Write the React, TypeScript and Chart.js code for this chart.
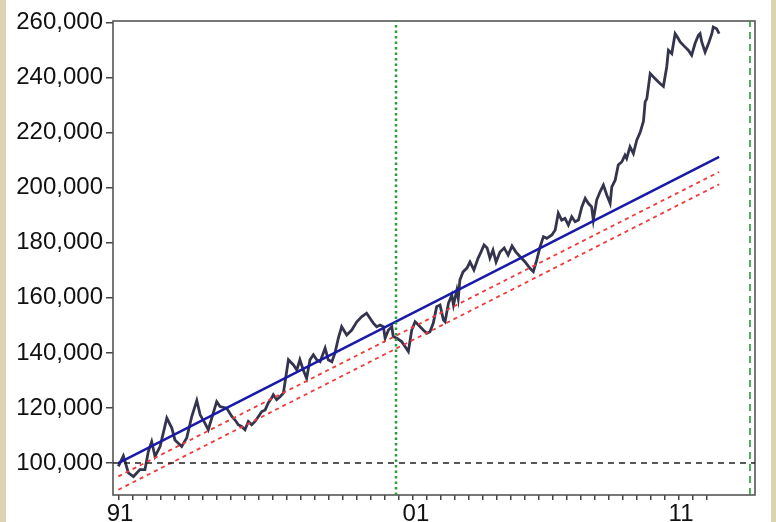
import { useEffect, useRef } from 'react';
import { Chart, registerables } from 'chart.js';

Chart.register(...registerables);

// Main series (decimal year, value)
const seriesYears = [
  1991.0, 1991.18, 1991.36, 1991.54, 1991.77, 1991.95, 1992.07, 1992.19, 1992.31, 1992.49,
  1992.73, 1992.91, 1993.02, 1993.26, 1993.44, 1993.62, 1993.8, 1993.92, 1994.09, 1994.21,
  1994.51, 1994.63, 1994.87, 1995.05, 1995.16, 1995.28, 1995.4, 1995.52, 1995.64, 1995.76,
  1995.88, 1996.0, 1996.12, 1996.24, 1996.35, 1996.47, 1996.53, 1996.65, 1996.77, 1996.89,
  1997.07, 1997.25, 1997.37, 1997.48, 1997.6, 1997.72, 1997.84, 1997.96, 1998.08, 1998.2,
  1998.38, 1998.49, 1998.62, 1998.73, 1998.85, 1998.97, 1999.15, 1999.33, 1999.51, 1999.69,
  1999.86, 1999.98, 2000.1, 2000.22, 2000.34, 2000.46, 2000.52, 2000.64, 2000.76, 2000.81,
  2000.94, 2001.11, 2001.23, 2001.35, 2001.47, 2001.59, 2001.71, 2001.88, 2002.01, 2002.12,
  2002.24, 2002.36, 2002.48, 2002.6, 2002.66, 2002.78, 2002.9, 2002.96, 2003.08, 2003.13,
  2003.19, 2003.3, 2003.44, 2003.55, 2003.69, 2003.84, 2003.94, 2004.05, 2004.16, 2004.26,
  2004.37, 2004.48, 2004.62, 2004.77, 2004.91, 2005.05, 2005.19, 2005.34, 2005.51, 2005.69,
  2005.81, 2005.93, 2006.05, 2006.17, 2006.29, 2006.47, 2006.59, 2006.7, 2006.82, 2006.94,
  2007.06, 2007.18, 2007.3, 2007.42, 2007.54, 2007.66, 2007.77, 2007.89, 2007.95, 2008.07,
  2008.19, 2008.31, 2008.43, 2008.55, 2008.61, 2008.73, 2008.84, 2008.97, 2009.08, 2009.14,
  2009.26, 2009.38, 2009.5, 2009.62, 2009.74, 2009.8, 2009.86, 2009.98, 2010.15, 2010.33,
  2010.45, 2010.57, 2010.63, 2010.75, 2010.87, 2010.95, 2011.05, 2011.22, 2011.34, 2011.46,
  2011.58, 2011.7, 2011.76, 2011.82, 2011.94, 2012.06, 2012.18, 2012.23, 2012.35, 2012.44,
];
const seriesValues = [
  98800, 102600, 96400, 95100, 97600, 97600, 104200, 107800, 102400, 106000,
  116300, 112700, 108400, 106000, 109100, 116900, 122700, 117500, 114500, 112100,
  122300, 120500, 119900, 116900, 115700, 113900, 113300, 112100, 115100, 113900,
  115100, 116900, 118700, 119300, 121800, 123600, 124800, 123000, 124100, 125400,
  137500, 135600, 133800, 137500, 133800, 130800, 137500, 139300, 137500, 136800,
  141700, 137500, 136800, 139900, 145300, 149500, 146500, 148300, 151300, 153200,
  154400, 152600, 150800, 149500, 150100, 149500, 145300, 148300, 149500, 145900,
  145300, 144100, 142300, 140500, 148300, 151300, 150100, 148300, 147100, 147700,
  150800, 156800, 157400, 152000, 151300, 158000, 161000, 157400, 162800, 159800,
  166500, 169400, 170800, 173000, 170100, 174400, 176600, 179200, 178100, 174400,
  177300, 173000, 176600, 178100, 175500, 178800, 176600, 174900, 173100, 170700,
  169500, 173700, 178500, 182200, 181600, 182800, 184600, 190700, 188200, 188800,
  186400, 189400, 187600, 188200, 193000, 196100, 194300, 193000, 188200, 195500,
  198500, 200900, 197300, 194300, 200300, 202700, 208200, 209400, 211800, 210600,
  214800, 212400, 217200, 220000, 224100, 231100, 232300, 241400, 239600, 237800,
  236800, 243800, 249900, 248700, 255900, 254700, 252900, 251100, 249900, 248100,
  252300, 255300, 255900, 252900, 249200, 252300, 255900, 258300, 257700, 255900,
];

// Trend line and lower bands (start / end)
const trendYears = [1991.0, 2012.44];
const trendValues = [100000, 211200];
const upperBandValues = [95150, 205700];
const lowerBandValues = [90300, 201200];

const baselineValue = 100000;
const breakYear = 2000.91;
const forecastEndYear = 2013.54;

const yTickValues = [100000, 120000, 140000, 160000, 180000, 200000, 220000, 240000, 260000];
const xMinorTickYears = Array.from({ length: 43 }, (_, i) => 1991 + i * 0.5);
const xLabelYears = [1991.06, 2001.62, 2011.08];
const xLabelTexts = ['91', '01', '11'];

const xMin = 1990.81;
const xMax = 2013.72;
const yMin = 88400;
const yMax = 260500;

const pts = (xs: number[], ys: number[]) => xs.map((x, i) => ({ x, y: ys[i] }));

export default function App() {
  const ref = useRef<HTMLCanvasElement | null>(null);

  useEffect(() => {
    if (!ref.current) return;
    const framePlugin = {
      id: 'frame',
      beforeDatasetsDraw(chart: any) {
        const { ctx, chartArea: a } = chart;
        ctx.save();
        ctx.strokeStyle = '#555555';
        ctx.lineWidth = 1.6;
        ctx.strokeRect(a.left, a.top, a.right - a.left, a.bottom - a.top);
        ctx.restore();
      },
    };
    const chart = new Chart(ref.current, {
      type: 'line',
      data: {
        datasets: [
          {
            label: 'baseline',
            data: pts([xMin, xMax], [baselineValue, baselineValue]),
            borderColor: '#222222',
            borderWidth: 1.5,
            borderDash: [6, 5],
            pointRadius: 0,
          },
          {
            label: 'break',
            data: pts([breakYear, breakYear], [yMin, yMax]),
            borderColor: '#2a9a3a',
            borderWidth: 2.5,
            borderDash: [2.5, 3],
            pointRadius: 0,
          },
          {
            label: 'end',
            data: pts([forecastEndYear, forecastEndYear], [yMin, yMax]),
            borderColor: '#2a9a3a',
            borderWidth: 1.6,
            borderDash: [7, 5],
            pointRadius: 0,
          },
          {
            label: 'upper',
            data: pts(trendYears, upperBandValues),
            borderColor: '#f23838',
            borderWidth: 1.8,
            borderDash: [4, 4],
            pointRadius: 0,
          },
          {
            label: 'lower',
            data: pts(trendYears, lowerBandValues),
            borderColor: '#f23838',
            borderWidth: 1.8,
            borderDash: [4, 4],
            pointRadius: 0,
          },
          {
            label: 'trend',
            data: pts(trendYears, trendValues),
            borderColor: '#1a1aa8',
            borderWidth: 2.5,
            pointRadius: 0,
          },
          {
            label: 'series',
            data: pts(seriesYears, seriesValues),
            borderColor: '#34344f',
            borderWidth: 2.8,
            pointRadius: 0,
            tension: 0,
          },
        ],
      },
      options: {
        animation: false,
        responsive: false,
        devicePixelRatio: 1,
        layout: { padding: { left: 0, right: 16, top: 21, bottom: 0 } },
        plugins: { legend: { display: false }, tooltip: { enabled: false } },
        scales: {
          x: {
            type: 'linear',
            min: xMin,
            max: xMax,
            afterFit: (s: any) => { s.height = 27; },
            afterBuildTicks: (s: any) => {
              const all = [...xMinorTickYears, ...xLabelYears].sort((a, b) => a - b);
              s.ticks = all.map((v) => ({ value: v }));
            },
            border: { display: false },
            grid: {
              drawOnChartArea: false,
              drawTicks: true,
              tickLength: 5,
              lineWidth: 1.5,
              tickColor: (c: any) =>
                c.tick && xLabelYears.includes(c.tick.value) ? 'rgba(0,0,0,0)' : '#444444',
            },
            ticks: {
              autoSkip: false,
              maxRotation: 0,
              padding: 0,
              color: '#111111',
              font: { family: 'Liberation Sans, Arial, sans-serif', size: 24 },
              callback: (v: any) => {
                const i = xLabelYears.indexOf(v);
                return i >= 0 ? xLabelTexts[i] : '';
              },
            },
          },
          y: {
            type: 'linear',
            min: yMin,
            max: yMax,
            afterFit: (s: any) => { s.width = 107; },
            afterBuildTicks: (s: any) => {
              s.ticks = yTickValues.map((v) => ({ value: v }));
            },
            border: { display: false },
            grid: {
              drawOnChartArea: false,
              drawTicks: true,
              tickLength: 7,
              lineWidth: 1.5,
              tickColor: '#444444',
            },
            ticks: {
              padding: 3,
              color: '#111111',
              font: { family: 'Liberation Sans, Arial, sans-serif', size: 24 },
              callback: (v: any) => Number(v).toLocaleString('en-US'),
            },
          },
        },
      },
      plugins: [framePlugin],
    } as any);
    return () => chart.destroy();
  }, []);

  return (
    <div
      style={{
        position: 'fixed',
        left: 0,
        top: 0,
        width: 776,
        height: 522,
        background: '#dcd3b0',
        overflow: 'hidden',
      }}
    >
      <canvas
        ref={ref}
        width={765}
        height={522}
        style={{ position: 'absolute', left: 6, top: 0, width: 765, height: 522, background: '#ffffff' }}
      />
    </div>
  );
}
